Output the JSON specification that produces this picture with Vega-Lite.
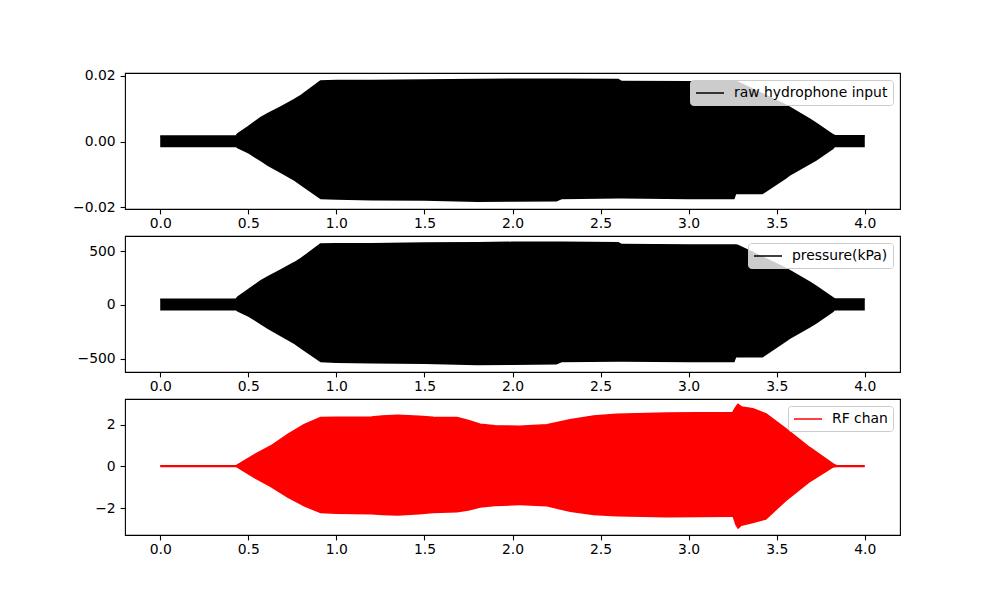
{
  "$schema": "https://vega.github.io/schema/vega-lite/v6.json",
  "autosize": {"type": "pad"},
  "padding": {"left": 72, "top": 68, "right": 5, "bottom": 5},
  "background": "white",
  "bounds": "flush",
  "spacing": 27,
  "datasets": {
    "hyd": [
      {"t": 0, "hi": 0.0017, "lo": -0.0017},
      {"t": 0.43, "hi": 0.0017, "lo": -0.0017},
      {"t": 0.44, "hi": 0.0024, "lo": -0.0021},
      {"t": 0.5, "hi": 0.0046, "lo": -0.0036},
      {"t": 0.57, "hi": 0.0073, "lo": -0.006},
      {"t": 0.61, "hi": 0.0085, "lo": -0.0074},
      {"t": 0.685, "hi": 0.0106, "lo": -0.0096},
      {"t": 0.76, "hi": 0.0128, "lo": -0.0119},
      {"t": 0.8, "hi": 0.0141, "lo": -0.0134},
      {"t": 0.91, "hi": 0.0185, "lo": -0.0175},
      {"t": 1.0, "hi": 0.0186, "lo": -0.0177},
      {"t": 1.2, "hi": 0.0186, "lo": -0.0179},
      {"t": 1.5, "hi": 0.0188, "lo": -0.018},
      {"t": 1.8, "hi": 0.0189, "lo": -0.0184},
      {"t": 2.0, "hi": 0.019, "lo": -0.0183},
      {"t": 2.25, "hi": 0.019, "lo": -0.0182},
      {"t": 2.28, "hi": 0.019, "lo": -0.0175},
      {"t": 2.6, "hi": 0.0189, "lo": -0.0173},
      {"t": 2.62, "hi": 0.0183, "lo": -0.0173},
      {"t": 3.0, "hi": 0.0182, "lo": -0.0175},
      {"t": 3.26, "hi": 0.0182, "lo": -0.0175},
      {"t": 3.27, "hi": 0.0182, "lo": -0.016},
      {"t": 3.28, "hi": 0.0181, "lo": -0.016},
      {"t": 3.42, "hi": 0.0145, "lo": -0.016},
      {"t": 3.555, "hi": 0.011, "lo": -0.0112},
      {"t": 3.575, "hi": 0.0104, "lo": -0.0104},
      {"t": 3.69, "hi": 0.0068, "lo": -0.0069},
      {"t": 3.725, "hi": 0.0056, "lo": -0.0058},
      {"t": 3.82, "hi": 0.0021, "lo": -0.0023},
      {"t": 3.83, "hi": 0.0018, "lo": -0.0017},
      {"t": 4.0, "hi": 0.0018, "lo": -0.0017}
    ],
    "pres": [
      {"t": 0, "hi": 52, "lo": -52},
      {"t": 0.43, "hi": 52, "lo": -52},
      {"t": 0.44, "hi": 73, "lo": -64},
      {"t": 0.5, "hi": 141, "lo": -110},
      {"t": 0.57, "hi": 223, "lo": -183},
      {"t": 0.61, "hi": 260, "lo": -226},
      {"t": 0.685, "hi": 324, "lo": -294},
      {"t": 0.76, "hi": 391, "lo": -364},
      {"t": 0.8, "hi": 431, "lo": -410},
      {"t": 0.91, "hi": 566, "lo": -535},
      {"t": 1.0, "hi": 569, "lo": -541},
      {"t": 1.2, "hi": 569, "lo": -547},
      {"t": 1.5, "hi": 575, "lo": -550},
      {"t": 1.8, "hi": 578, "lo": -563},
      {"t": 2.0, "hi": 581, "lo": -560},
      {"t": 2.25, "hi": 581, "lo": -556},
      {"t": 2.28, "hi": 581, "lo": -535},
      {"t": 2.6, "hi": 578, "lo": -529},
      {"t": 2.62, "hi": 560, "lo": -529},
      {"t": 3.0, "hi": 556, "lo": -535},
      {"t": 3.26, "hi": 556, "lo": -535},
      {"t": 3.27, "hi": 556, "lo": -489},
      {"t": 3.28, "hi": 553, "lo": -489},
      {"t": 3.42, "hi": 443, "lo": -489},
      {"t": 3.555, "hi": 336, "lo": -342},
      {"t": 3.575, "hi": 318, "lo": -318},
      {"t": 3.69, "hi": 208, "lo": -211},
      {"t": 3.725, "hi": 171, "lo": -177},
      {"t": 3.82, "hi": 64, "lo": -70},
      {"t": 3.83, "hi": 55, "lo": -52},
      {"t": 4.0, "hi": 55, "lo": -52}
    ],
    "rf": [
      {"t": 0, "hi": 0.04, "lo": -0.04},
      {"t": 0.43, "hi": 0.04, "lo": -0.04},
      {"t": 0.436, "hi": 0.06, "lo": -0.06},
      {"t": 0.533, "hi": 0.56, "lo": -0.56},
      {"t": 0.627, "hi": 0.98, "lo": -1.0},
      {"t": 0.722, "hi": 1.52, "lo": -1.5},
      {"t": 0.816, "hi": 2.0, "lo": -1.92},
      {"t": 0.91, "hi": 2.35, "lo": -2.24},
      {"t": 1.0, "hi": 2.36, "lo": -2.27},
      {"t": 1.2, "hi": 2.37, "lo": -2.3},
      {"t": 1.26, "hi": 2.42, "lo": -2.33},
      {"t": 1.35, "hi": 2.45, "lo": -2.36},
      {"t": 1.47, "hi": 2.41, "lo": -2.3},
      {"t": 1.55, "hi": 2.36, "lo": -2.24},
      {"t": 1.685, "hi": 2.34, "lo": -2.2},
      {"t": 1.75, "hi": 2.2, "lo": -2.12},
      {"t": 1.817, "hi": 2.02, "lo": -1.98},
      {"t": 1.9, "hi": 1.95, "lo": -1.9},
      {"t": 2.04, "hi": 1.93, "lo": -1.86},
      {"t": 2.195, "hi": 2.0, "lo": -1.92},
      {"t": 2.327, "hi": 2.24, "lo": -2.18},
      {"t": 2.46, "hi": 2.42, "lo": -2.34},
      {"t": 2.59, "hi": 2.5, "lo": -2.4},
      {"t": 2.875, "hi": 2.56, "lo": -2.44},
      {"t": 3.25, "hi": 2.58, "lo": -2.42},
      {"t": 3.265, "hi": 2.8, "lo": -2.8},
      {"t": 3.28, "hi": 2.98, "lo": -3.0},
      {"t": 3.3, "hi": 2.85, "lo": -2.85},
      {"t": 3.365, "hi": 2.76, "lo": -2.72},
      {"t": 3.44, "hi": 2.52, "lo": -2.55},
      {"t": 3.555, "hi": 1.79, "lo": -1.65},
      {"t": 3.687, "hi": 0.91, "lo": -0.77},
      {"t": 3.82, "hi": 0.12, "lo": -0.06},
      {"t": 3.84, "hi": 0.04, "lo": -0.04},
      {"t": 4.0, "hi": 0.04, "lo": -0.04}
    ]
  },
  "vconcat": [
    {
      "width": 775,
      "height": 136,
      "data": {"name": "hyd"},
      "encoding": {
        "x": {"field": "t", "type": "quantitative", "scale": {"domain": [-0.2, 4.2], "nice": false, "zero": false}, "axis": {"values": [0, 0.5, 1, 1.5, 2, 2.5, 3, 3.5, 4], "format": ".1f", "title": null}},
        "y": {"field": "hi", "type": "quantitative", "scale": {"domain": [-0.0205, 0.0209], "nice": false, "zero": false}, "axis": {"values": [-0.02, 0, 0.02], "format": ".2f", "title": null}}
      },
      "layer": [
        {"mark": {"type": "area", "color": "#000000", "opacity": 1}, "encoding": {"y2": {"field": "lo"}}},
        {"mark": {"type": "line", "strokeWidth": 1.5}, "encoding": {"color": {"datum": "raw hydrophone input", "type": "nominal", "scale": {"range": ["#000000"]}}}}
      ]
    },
    {
      "width": 775,
      "height": 136,
      "data": {"name": "pres"},
      "encoding": {
        "x": {"field": "t", "type": "quantitative", "scale": {"domain": [-0.2, 4.2], "nice": false, "zero": false}, "axis": {"values": [0, 0.5, 1, 1.5, 2, 2.5, 3, 3.5, 4], "format": ".1f", "title": null}},
        "y": {"field": "hi", "type": "quantitative", "scale": {"domain": [-625, 640], "nice": false, "zero": false}, "axis": {"values": [-500, 0, 500], "format": "d", "title": null}}
      },
      "layer": [
        {"mark": {"type": "area", "color": "#000000", "opacity": 1}, "encoding": {"y2": {"field": "lo"}}},
        {"mark": {"type": "line", "strokeWidth": 1.5}, "encoding": {"color": {"datum": "pressure(kPa)", "type": "nominal", "scale": {"range": ["#000000"]}}}}
      ]
    },
    {
      "width": 775,
      "height": 136,
      "data": {"name": "rf"},
      "encoding": {
        "x": {"field": "t", "type": "quantitative", "scale": {"domain": [-0.2, 4.2], "nice": false, "zero": false}, "axis": {"values": [0, 0.5, 1, 1.5, 2, 2.5, 3, 3.5, 4], "format": ".1f", "title": null}},
        "y": {"field": "hi", "type": "quantitative", "scale": {"domain": [-3.28, 3.23], "nice": false, "zero": false}, "axis": {"values": [-2, 0, 2], "format": "d", "title": null}}
      },
      "layer": [
        {"mark": {"type": "area", "color": "#ff0000", "opacity": 1}, "encoding": {"y2": {"field": "lo"}}},
        {"mark": {"type": "line", "strokeWidth": 1.5}, "encoding": {"color": {"datum": "RF chan", "type": "nominal", "scale": {"range": ["#ff0000"]}}}}
      ]
    }
  ],
  "resolve": {"scale": {"color": "independent", "y": "independent", "x": "independent"}, "legend": {"color": "independent"}},
  "config": {
    "view": {"stroke": "#000000", "strokeWidth": 1.1},
    "axis": {
      "domain": false,
      "grid": false,
      "ticks": true,
      "tickColor": "#000000",
      "tickSize": 4.9,
      "tickWidth": 1.1,
      "labelFont": "DejaVu Sans",
      "labelFontSize": 13.9,
      "labelColor": "#000000",
      "labelPadding": 4.9,
      "labelFlush": false,
      "labelOverlap": false
    },
    "axisX": {"labelPadding": 2.5},
    "legend": {
      "orient": "top-right",
      "offset": 7,
      "padding": 5,
      "title": null,
      "fillColor": "rgba(255,255,255,0.8)",
      "strokeColor": "#cccccc",
      "cornerRadius": 3,
      "symbolType": "M-2,0H2",
      "symbolSize": 196,
      "symbolOffset": 7,
      "symbolStrokeWidth": 1.5,
      "labelFont": "DejaVu Sans",
      "labelFontSize": 13.9,
      "labelColor": "#000000",
      "labelOffset": 16,
      "labelLimit": 400
    }
  }
}
